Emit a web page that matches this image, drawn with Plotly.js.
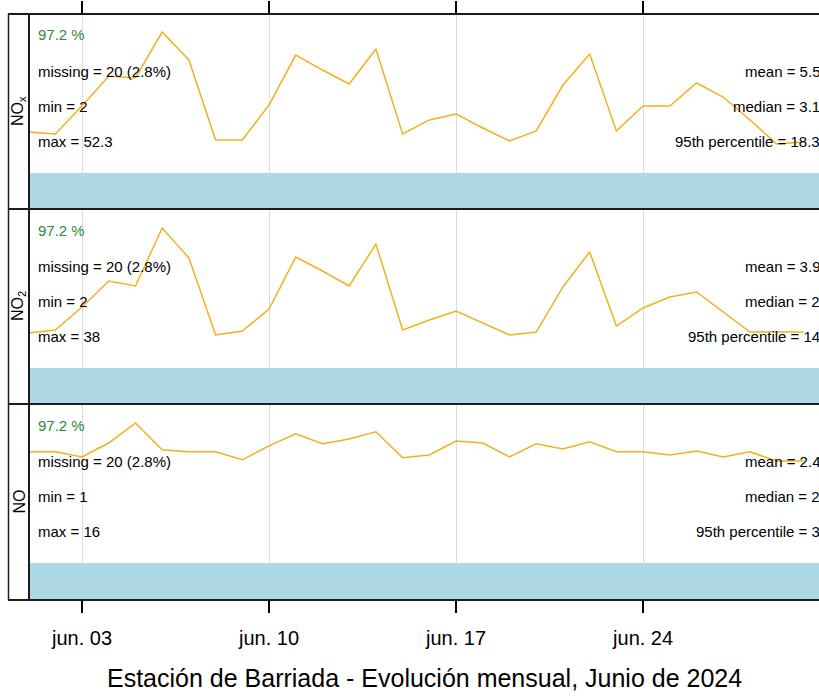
<!DOCTYPE html>
<html>
<head>
<meta charset="utf-8">
<script src="https://cdn.plot.ly/plotly-3.0.1.min.js"></script>
<style>
html,body{margin:0;padding:0;overflow:hidden;background:#fff;}
#chart{width:1000px;height:697px;}
</style>
</head>
<body>
<div id="chart"></div>
<script>
// ---- data ----
const days = ["2024-06-01","2024-06-02","2024-06-03","2024-06-04","2024-06-05","2024-06-06",
  "2024-06-07","2024-06-08","2024-06-09","2024-06-10","2024-06-11","2024-06-12","2024-06-13",
  "2024-06-14","2024-06-15","2024-06-16","2024-06-17","2024-06-18","2024-06-19","2024-06-20",
  "2024-06-21","2024-06-22","2024-06-23","2024-06-24","2024-06-25","2024-06-26","2024-06-27",
  "2024-06-28","2024-06-29","2024-06-30"];
const noxDaily = [3.42,3.25,5.58,8.08,7.92,11.75,9.42,2.75,2.75,5.67,9.83,8.58,7.42,10.33,3.25,
  4.42,4.92,3.75,2.67,3.50,7.33,9.92,3.50,5.58,5.58,7.50,6.33,4.42,2.42,2.58];
const no2Daily = [2.50,2.71,4.36,6.21,5.86,10.00,7.86,2.36,2.64,4.21,7.93,6.93,5.86,8.86,2.71,
  3.43,4.07,3.21,2.36,2.57,5.79,8.29,3.00,4.29,5.07,5.43,4.00,2.57,2.57,2.57];
const noDaily = [2.78,2.78,2.65,3.00,3.50,2.83,2.78,2.78,2.58,2.93,3.23,2.98,3.10,3.28,2.63,
  2.70,3.05,3.00,2.65,2.98,2.85,3.03,2.78,2.78,2.70,2.80,2.65,2.78,2.55,2.55];
const pollutants = ["NO<sub>x</sub>","NO<sub>2</sub>","NO"];
const capture = ["97.2 %","97.2 %","97.2 %"];
const missing = ["missing = 20 (2.8%)","missing = 20 (2.8%)","missing = 20 (2.8%)"];
const minTxt = ["min = 2","min = 2","min = 1"];
const maxTxt = ["max = 52.3","max = 38","max = 16"];
const meanTxt = ["mean = 5.5","mean = 3.9","mean = 2.4"];
const medianTxt = ["median = 3.1","median = 2","median = 2"];
const p95Txt = ["95th percentile = 18.3","95th percentile = 14","95th percentile = 3"];
const tickVals = ["2024-06-03","2024-06-10","2024-06-17","2024-06-24"];
const tickText = ["jun. 03","jun. 10","jun. 17","jun. 24"];
const titleText = "Estación de Barriada - Evolución mensual, Junio de 2024";

// ---- layout helpers ----
const W = 1000, H = 697, ML = 8, MT = 14, MB = 97;
const PW = W - ML, PH = H - MT - MB;
const px = p => (p - ML) / PW;
const py = q => (600 - q) / PH;
const FONT = "Liberation Sans, Arial, sans-serif";
const lineCol = "#F3B01C";

const series = [noxDaily, no2Daily, noDaily];
const tops = [14, 209, 404], bots = [209, 404, 600];
const yRanges = [[-3, 13.25], [-2.571, 11.357], [-0.925, 3.975]];

const traces = series.map((s, i) => ({
  x: days, y: s, type: "scatter", mode: "lines",
  line: {color: lineCol, width: 1.5},
  xaxis: i === 0 ? "x2" : (i === 1 ? "x3" : "x"),
  yaxis: i === 0 ? "y" : "y" + (i + 1),
  hoverinfo: "x+y", showlegend: false
}));

const xRange = ["2024-06-01 00:00", "2024-06-30 23:00"];
const xDom = [px(28.6), px(829)];
const baseX = {
  type: "date", range: xRange, domain: xDom, tickvals: tickVals, ticktext: tickText,
  showgrid: true, gridcolor: "#dcdcdc", gridwidth: 1, zeroline: false,
  showline: false, fixedrange: true
};
const layout = {
  width: W, height: H,
  margin: {l: ML, r: 0, t: MT, b: MB},
  paper_bgcolor: "#fff", plot_bgcolor: "#fff",
  font: {family: FONT, color: "#000", size: 15},
  showlegend: false,
  xaxis: Object.assign({}, baseX, {anchor: "y3", ticks: "outside", ticklen: 12, tickwidth: 1.5,
    tickcolor: "#000", showticklabels: true, tickfont: {size: 20, family: FONT, color: "#000"},
    ticklabelstandoff: 8}),
  xaxis2: Object.assign({}, baseX, {anchor: "y", side: "top", matches: "x", ticks: "outside",
    ticklen: 12, tickwidth: 1.5, tickcolor: "#000", showticklabels: false}),
  xaxis3: Object.assign({}, baseX, {anchor: "y2", matches: "x", ticks: "", showticklabels: false}),
  shapes: [], annotations: []
};
[0, 1, 2].forEach(i => {
  const key = i === 0 ? "yaxis" : "yaxis" + (i + 1);
  layout[key] = {domain: [py(bots[i]), py(tops[i])], range: yRanges[i], showgrid: false,
    zeroline: false, showticklabels: false, ticks: "", showline: false, fixedrange: true};
  const yr = i === 0 ? "y" : "y" + (i + 1);
  const xr = i === 0 ? "x2" : (i === 1 ? "x3" : "x");
  // data capture bar
  layout.shapes.push({type: "rect", xref: xr + " domain", yref: yr, x0: 0, x1: 1,
    y0: yRanges[i][0], y1: 0, fillcolor: "#ADD8E6", line: {width: 0}, layer: "above"});
  const T = tops[i];
  const left = (txt, off, col) => layout.annotations.push({xref: "paper", yref: "paper",
    x: px(36), y: py(T + off), xanchor: "left", yanchor: "middle", text: txt, showarrow: false,
    font: {size: 15, color: col || "#000", family: FONT}});
  const right = (txt, off) => layout.annotations.push({xref: "paper", yref: "paper",
    x: px(822), y: py(T + off), xanchor: "right", yanchor: "middle", text: txt, showarrow: false,
    font: {size: 15, color: "#000", family: FONT}});
  left(capture[i], 21, "#2E8B2E");
  left(missing[i], 57); left(minTxt[i], 92); left(maxTxt[i], 127);
  right(meanTxt[i], 57); right(medianTxt[i], 92); right(p95Txt[i], 127);
  layout.annotations.push({xref: "paper", yref: "paper", x: px(18.5), y: py((tops[i] + bots[i]) / 2),
    xanchor: "center", yanchor: "middle", text: pollutants[i], textangle: -90, showarrow: false,
    font: {size: 16, color: "#000", family: FONT}});
});
// frame lines
const hl = q => ({type: "line", xref: "paper", yref: "paper", x0: 0, x1: 1, y0: py(q), y1: py(q),
  line: {color: "#1c1c1c", width: 2}, layer: "above"});
const vl = (p, w) => ({type: "line", xref: "paper", yref: "paper", x0: px(p), x1: px(p), y0: 0, y1: 1,
  line: {color: "#1c1c1c", width: w}, layer: "above"});
layout.shapes.push(hl(14), hl(209), hl(404), hl(600), vl(8.5, 1.5), vl(29, 2));
layout.annotations.push({xref: "paper", yref: "paper", x: px(424), y: py(678), xanchor: "center",
  yanchor: "middle", text: titleText, showarrow: false, font: {size: 25, color: "#000", family: FONT}});

Plotly.newPlot("chart", traces, layout, {displayModeBar: false, staticPlot: true});
</script>
</body>
</html>
